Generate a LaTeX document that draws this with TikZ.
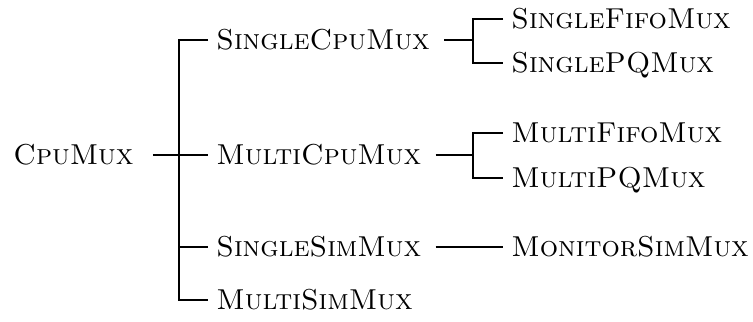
\documentclass[tikz,border=0pt]{standalone}
\begin{document}
\begin{tikzpicture}[x=0.5pt,y=-0.5pt,
  lbl/.style={anchor=west,inner sep=0pt,text height=9.8pt,text depth=0pt,
    font=\fontsize{14.4}{17}\selectfont\scshape},
  conn/.style={line width=0.7pt}]
\useasboundingbox (0,0) rectangle (753,321);
\node[lbl] (cpu) at (13,155) {CpuMux};
\node[lbl] (scpu) at (216,40) {SingleCpuMux};
\node[lbl] (mcpu) at (216,155) {MultiCpuMux};
\node[lbl] (ssim) at (216,247) {SingleSimMux};
\node[lbl] (msim) at (216,300) {MultiSimMux};
\node[lbl] (sfifo) at (511,19) {SingleFifoMux};
\node[lbl] (spq) at (511,63) {SinglePQMux};
\node[lbl] (mfifo) at (511,133) {MultiFifoMux};
\node[lbl] (mpq) at (511,178) {MultiPQMux};
\node[lbl] (mon) at (511,247) {MonitorSimMux};
\coordinate (j0) at (179,155);
\coordinate (j1) at (473,40);
\coordinate (j2) at (473,155);
% first level
\draw[conn] ([xshift=9.5pt]cpu.east) -- ([xshift=-4pt]mcpu.west);
\draw[conn] ([xshift=-4pt]scpu.west) -| (j0) |- ([xshift=-4pt]msim.west);
\draw[conn] (j0 |- ssim.west) -- ([xshift=-4pt]ssim.west);
% second level
\draw[conn] ([xshift=7pt]scpu.east) -- (j1);
\draw[conn] ([xshift=-4pt]sfifo.west) -| (j1) |- ([xshift=-4pt]spq.west);
\draw[conn] ([xshift=7pt]mcpu.east) -- (j2);
\draw[conn] ([xshift=-4pt]mfifo.west) -| (j2) |- ([xshift=-4pt]mpq.west);
\draw[conn] ([xshift=7pt]ssim.east) -- ([xshift=-4pt]mon.west);
\end{tikzpicture}
\end{document}
